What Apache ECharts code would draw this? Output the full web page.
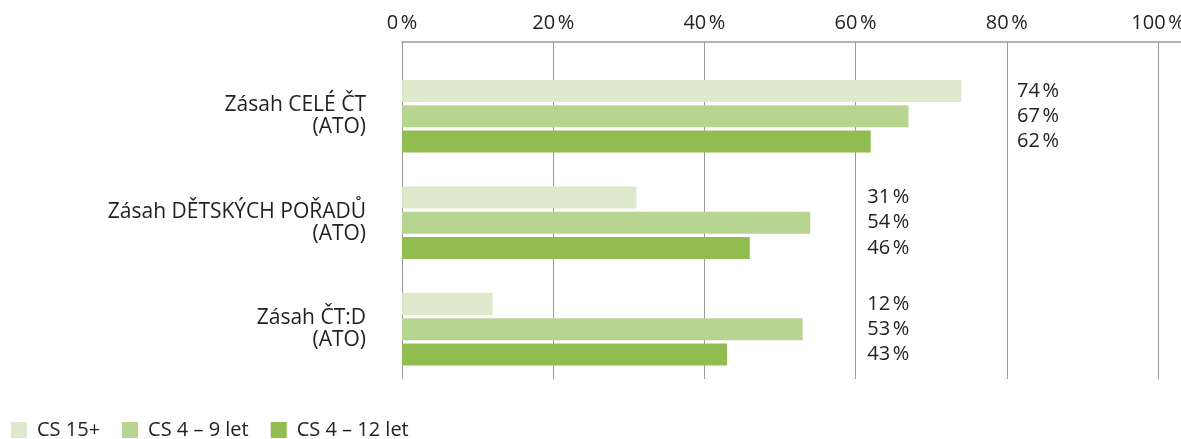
<!DOCTYPE html>
<html>
<head>
<meta charset="utf-8">
<script src="https://cdn.jsdelivr.net/npm/echarts@6/dist/echarts.min.js"></script>
<style>
  html, body { margin: 0; padding: 0; background: #fff; }
  #chart { width: 1181px; height: 439px; }
</style>
</head>
<body>
<div id="chart"></div>
<script>
// ---- data ----
const categories = ['Zásah CELÉ ČT\n(ATO)', 'Zásah DĚTSKÝCH POŘADŮ\n(ATO)', 'Zásah ČT:D\n(ATO)'];
const seriesNames = ['CS 15+', 'CS 4 – 9 let', 'CS 4 – 12 let'];
const cs15 = [74, 31, 12];
const cs4to9 = [67, 54, 53];
const cs4to12 = [62, 46, 43];
const tickValues = [0, 20, 40, 60, 80, 100];

// ---- layout / style ----
const W = 1181, H = 439;
const GRID_LEFT = 402, GRID_RIGHT = 23;
const PLOT_W = W - GRID_LEFT - GRID_RIGHT;
const LABEL_COLUMN_PCT = [86.9, 67.1, 67.1]; // right edge of value-label column per group
const colors = ['#dce9cb', '#b7d491', '#91bd50'];
const FONT = '"Open Sans", sans-serif';
const NNBSP = '\u202F';

const allSeriesData = [cs15, cs4to9, cs4to12];
const pxPerUnit = PLOT_W / 100;

const chart = echarts.init(document.getElementById('chart'), null, { renderer: 'canvas' });

const series = allSeriesData.map((vals, si) => ({
  name: seriesNames[si],
  type: 'bar',
  xAxisIndex: 1,
  yAxisIndex: 1,
  barWidth: 22,
  barGap: '15%',
  itemStyle: { color: colors[si] },
  data: vals.map((v, gi) => ({
    value: v,
    label: {
      show: true,
      position: [LABEL_COLUMN_PCT[gi] * pxPerUnit, '50%'],
      align: 'right',
      verticalAlign: 'middle',
      formatter: () => v + NNBSP + '%',
      fontFamily: FONT,
      fontSize: 20,
      color: '#222'
    }
  })),
  z: 3
}));

const option = {
  animation: false,
  backgroundColor: '#fff',
  textStyle: { fontFamily: FONT },
  grid: [
    { left: GRID_LEFT, right: GRID_RIGHT, top: 42, bottom: H - 379, outerBoundsMode: 'none', containLabel: false },
    { left: GRID_LEFT, right: GRID_RIGHT, top: 63, height: 319.5, outerBoundsMode: 'none', containLabel: false }
  ],
  xAxis: [
    {
      gridIndex: 0, type: 'value', position: 'top', min: 0, max: 100, interval: 20,
      axisLine: { show: true, onZero: false, lineStyle: { color: '#9a9a9a', width: 1.5 } },
      axisTick: { show: false },
      splitLine: { show: true, lineStyle: { color: '#999', width: 1 } },
      axisLabel: {
        margin: 9, fontFamily: FONT, fontSize: 20, color: '#222',
        formatter: (v) => tickValues.includes(v) ? v + NNBSP + '%' : ''
      }
    },
    {
      gridIndex: 1, type: 'value', min: 0, max: 100, show: false
    }
  ],
  yAxis: [
    { gridIndex: 0, type: 'value', min: 0, max: 1, show: false },
    {
      gridIndex: 1, type: 'category', inverse: true, data: categories,
      axisLine: { show: false }, axisTick: { show: false },
      axisLabel: {
        margin: 36, fontFamily: FONT, fontSize: 21, color: '#222',
        align: 'right', lineHeight: 22
      }
    }
  ],
  legend: {
    left: 6, top: 415,
    itemWidth: 16, itemHeight: 16, itemGap: 22,
    icon: 'rect',
    textStyle: { fontFamily: FONT, fontSize: 20, color: '#222', padding: [0, 0, 0, 5] },
    data: seriesNames
  },
  graphic: [{
    type: 'line',
    shape: { x1: W - GRID_RIGHT, y1: 42, x2: W, y2: 42 },
    style: { stroke: '#9a9a9a', lineWidth: 1.5 }
  }],
  series: series
};

chart.setOption(option);
</script>
</body>
</html>
